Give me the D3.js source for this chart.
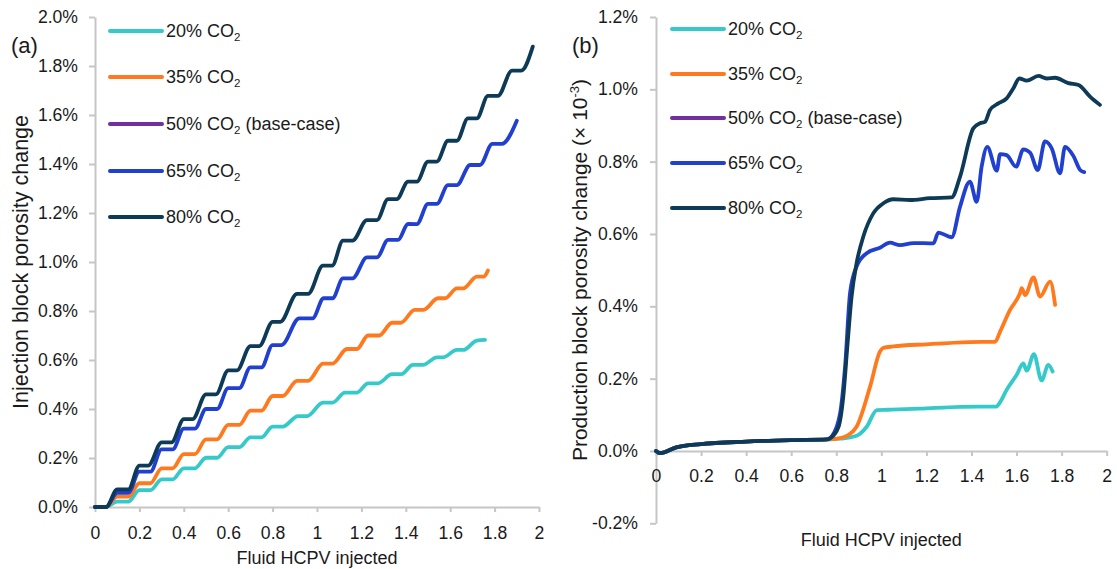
<!DOCTYPE html>
<html>
<head>
<meta charset="utf-8">
<script src="https://cdn.jsdelivr.net/npm/d3@7"></script>
<style>
  html, body { margin: 0; padding: 0; background: #ffffff; }
  svg { display: block; font-family: "Liberation Sans", Arial, Helvetica, sans-serif; }
  .axis path, .axis line { stroke: #c6c6c6; stroke-width: 2; }
  .axis text { fill: #1a1a1a; font-size: 17.6px; font-family: "Liberation Sans", Arial, sans-serif; }
</style>
</head>
<body>
<svg id="chart" width="1117" height="569"></svg>
<script>
// CO2 concentration cases
const seriesNames = ["20% CO", "35% CO", "50% CO", "65% CO", "80% CO"];
const seriesSuffix = ["", "", " (base-case)", "", ""];
const seriesColors = ["#35c9c9", "#ff7a1e", "#7030a0", "#2140cf", "#0d3a57"];

// x ticks (fluid HCPV injected)
const xTicks = [0, 0.2, 0.4, 0.6, 0.8, 1, 1.2, 1.4, 1.6, 1.8, 2];
const xTickLabels = ["0", "0.2", "0.4", "0.6", "0.8", "1", "1.2", "1.4", "1.6", "1.8", "2"];
// y ticks, porosity change in %
const yTicksA = [0, 0.2, 0.4, 0.6, 0.8, 1.0, 1.2, 1.4, 1.6, 1.8, 2.0];
const yTicksB = [-0.2, 0, 0.2, 0.4, 0.6, 0.8, 1.0, 1.2];

// (a) injection block porosity change [HCPV, %]
const injection20 = [[0,0],[0.05,0],[0.1,0.022],[0.15,0.022],[0.2,0.069],[0.25,0.069],[0.3,0.113],[0.35,0.113],[0.4,0.158],[0.45,0.158],[0.5,0.201],[0.55,0.201],[0.6,0.244],[0.65,0.244],[0.7,0.284],[0.75,0.284],[0.8,0.328],[0.845,0.328],[0.915,0.371],[0.955,0.371],[1.027,0.426],[1.07,0.426],[1.126,0.467],[1.18,0.467],[1.23,0.505],[1.275,0.505],[1.338,0.542],[1.38,0.542],[1.432,0.58],[1.477,0.58],[1.54,0.611],[1.568,0.611],[1.63,0.641],[1.658,0.641],[1.72,0.679],[1.757,0.682]];
const injection35 = [[0,0],[0.05,0],[0.1,0.042],[0.15,0.042],[0.2,0.097],[0.25,0.097],[0.3,0.158],[0.35,0.158],[0.4,0.216],[0.45,0.216],[0.5,0.276],[0.55,0.276],[0.6,0.335],[0.65,0.335],[0.7,0.393],[0.75,0.393],[0.8,0.453],[0.845,0.453],[0.91,0.515],[0.96,0.515],[1.027,0.585],[1.07,0.585],[1.135,0.645],[1.18,0.645],[1.23,0.70],[1.28,0.70],[1.338,0.752],[1.378,0.752],[1.44,0.805],[1.48,0.805],[1.545,0.852],[1.577,0.852],[1.63,0.892],[1.658,0.892],[1.72,0.94],[1.75,0.94],[1.77,0.965]];
const injection50 = [];
const injection65 = [[0,0],[0.05,0],[0.1,0.058],[0.15,0.058],[0.2,0.144],[0.25,0.144],[0.3,0.235],[0.35,0.235],[0.4,0.32],[0.45,0.32],[0.5,0.40],[0.55,0.40],[0.6,0.485],[0.65,0.485],[0.7,0.57],[0.75,0.57],[0.8,0.661],[0.84,0.661],[0.92,0.77],[0.98,0.77],[1.03,0.852],[1.07,0.852],[1.117,0.933],[1.16,0.933],[1.225,1.019],[1.27,1.019],[1.32,1.09],[1.365,1.09],[1.41,1.155],[1.45,1.155],[1.5,1.237],[1.54,1.237],[1.59,1.314],[1.63,1.314],[1.69,1.396],[1.734,1.396],[1.79,1.482],[1.833,1.482],[1.9,1.577]];
const injection80 = [[0,0],[0.05,0],[0.1,0.072],[0.15,0.072],[0.2,0.169],[0.24,0.169],[0.3,0.264],[0.345,0.264],[0.4,0.359],[0.44,0.359],[0.5,0.46],[0.545,0.46],[0.6,0.558],[0.64,0.558],[0.7,0.657],[0.74,0.657],[0.8,0.756],[0.835,0.756],[0.91,0.87],[0.96,0.87],[1.027,0.985],[1.068,0.985],[1.117,1.087],[1.16,1.087],[1.225,1.171],[1.27,1.171],[1.32,1.257],[1.36,1.257],[1.41,1.328],[1.45,1.328],[1.5,1.41],[1.54,1.41],[1.59,1.495],[1.63,1.495],[1.68,1.586],[1.72,1.586],[1.77,1.678],[1.815,1.678],[1.878,1.781],[1.92,1.781],[1.972,1.879]];

// (b) production block porosity change [HCPV, % x 10^-3]
const production20 = [[0,0],[0.018,-0.006],[0.09,0.01],[0.2,0.019],[0.4,0.026],[0.6,0.03],[0.76,0.032],[0.82,0.034],[0.89,0.042],[0.935,0.067],[0.98,0.113],[1.03,0.114],[1.17,0.117],[1.35,0.122],[1.51,0.123],[1.527,0.135],[1.556,0.169],[1.6,0.21],[1.63,0.242],[1.645,0.222],[1.677,0.268],[1.711,0.195],[1.741,0.238],[1.76,0.22]];
const production35 = [[0,0],[0.018,-0.006],[0.09,0.01],[0.2,0.019],[0.4,0.026],[0.6,0.03],[0.76,0.032],[0.8,0.034],[0.853,0.044],[0.89,0.067],[0.95,0.178],[0.994,0.275],[1.009,0.285],[1.053,0.289],[1.2,0.295],[1.39,0.301],[1.505,0.302],[1.527,0.33],[1.571,0.39],[1.615,0.436],[1.623,0.45],[1.638,0.431],[1.675,0.48],[1.704,0.427],[1.749,0.468],[1.771,0.404]];
const production50 = [];
const production65 = [[0,0],[0.018,-0.006],[0.09,0.01],[0.2,0.019],[0.4,0.026],[0.6,0.03],[0.76,0.032],[0.78,0.04],[0.817,0.104],[0.839,0.233],[0.861,0.436],[0.89,0.51],[0.935,0.547],[0.994,0.562],[1.038,0.576],[1.083,0.569],[1.142,0.575],[1.231,0.574],[1.253,0.604],[1.312,0.591],[1.349,0.675],[1.393,0.745],[1.423,0.689],[1.445,0.786],[1.47,0.841],[1.512,0.775],[1.527,0.821],[1.556,0.818],[1.598,0.786],[1.63,0.834],[1.66,0.825],[1.694,0.777],[1.726,0.856],[1.756,0.837],[1.793,0.768],[1.815,0.841],[1.852,0.816],[1.882,0.777],[1.9,0.771]];
const production80 = [[0,0],[0.018,-0.006],[0.09,0.01],[0.2,0.019],[0.4,0.026],[0.6,0.03],[0.76,0.032],[0.772,0.035],[0.81,0.067],[0.831,0.15],[0.849,0.288],[0.868,0.427],[0.89,0.519],[0.92,0.593],[0.964,0.657],[1.009,0.685],[1.053,0.696],[1.127,0.694],[1.216,0.699],[1.312,0.701],[1.349,0.758],[1.408,0.892],[1.438,0.906],[1.46,0.91],[1.482,0.943],[1.519,0.961],[1.556,0.975],[1.586,1.003],[1.612,1.03],[1.645,1.024],[1.697,1.037],[1.734,1.03],[1.771,1.032],[1.83,1.017],[1.875,1.012],[1.926,0.98],[1.97,0.957]];

const injectionSeries = [injection20, injection35, injection50, injection65, injection80];
const productionSeries = [production20, production35, production50, production65, production80];

const svg = d3.select("#chart");
const pctLabel = v => v.toFixed(1) + "%";

function drawPanel(cfg) {
  const x = d3.scaleLinear().domain([0, 2]).range([cfg.x0, cfg.x1]);
  const y = d3.scaleLinear().domain(cfg.yDomain).range([cfg.yBottom, cfg.yTop]);
  const g = svg.append("g");

  // y axis
  g.append("g").attr("class", "axis")
    .attr("transform", `translate(${cfg.x0},0)`)
    .call(d3.axisLeft(y).tickValues(cfg.yTicks).tickFormat(pctLabel)
      .tickSize(6).tickSizeOuter(0).tickPadding(cfg.yPad));

  // x axis sits on the zero line
  g.append("g").attr("class", "axis")
    .attr("transform", `translate(0,${y(0)})`)
    .call(d3.axisBottom(x).tickValues(xTicks).tickFormat((d, i) => xTickLabels[i])
      .tickSize(5).tickSizeOuter(0).tickPadding(cfg.xPad));

  // series lines
  const line = d3.line()
    .x(d => x(d[0])).y(d => y(d[1]))
    .curve(d3.curveMonotoneX);
  cfg.series.forEach((data, i) => {
    if (!data.length) return;
    g.append("path")
      .attr("d", line(data))
      .attr("fill", "none")
      .attr("stroke", seriesColors[i])
      .attr("stroke-width", 3.8)
      .attr("stroke-linejoin", "round")
      .attr("stroke-linecap", "round");
  });

  // legend
  cfg.legendRows.forEach((ly, i) => {
    g.append("line")
      .attr("x1", cfg.legendX).attr("x2", cfg.legendX + 52)
      .attr("y1", ly).attr("y2", ly)
      .attr("stroke", seriesColors[i]).attr("stroke-width", 4)
      .attr("stroke-linecap", "round");
    const t = g.append("text")
      .attr("x", cfg.legendX + 56).attr("y", ly).attr("dy", "0.36em")
      .attr("font-size", 18).attr("fill", "#1a1a1a");
    t.append("tspan").text(seriesNames[i]);
    t.append("tspan").attr("font-size", 11.5).attr("dy", 4).text("2");
    if (seriesSuffix[i]) t.append("tspan").attr("dy", -4).text(seriesSuffix[i]);
  });

  // panel letter
  g.append("text").attr("x", cfg.letterX).attr("y", 53)
    .attr("font-size", 22).attr("fill", "#1a1a1a").text(cfg.letter);

  // x title
  g.append("text").attr("x", (cfg.x0 + cfg.x1) / 2).attr("y", cfg.xTitleY)
    .attr("text-anchor", "middle").attr("font-size", 18).attr("fill", "#1a1a1a")
    .text("Fluid HCPV injected");

  return { x, y, g };
}

const pa = drawPanel({
  x0: 95, x1: 539, yTop: 17, yBottom: 507, yDomain: [0, 2],
  yTicks: yTicksA, yPad: 11, xPad: 15,
  series: injectionSeries,
  legendX: 110, legendRows: [31, 77, 124, 171, 217],
  letter: "(a)", letterX: 11, xTitleY: 564
});
pa.g.append("text")
  .attr("transform", "translate(28,262) rotate(-90)")
  .attr("text-anchor", "middle").attr("font-size", 21.5).attr("fill", "#1a1a1a")
  .text("Injection block porosity change");

const pb = drawPanel({
  x0: 656, x1: 1106.7, yTop: 17, yBottom: 523.3, yDomain: [-0.2, 1.2],
  yTicks: yTicksB, yPad: 12, xPad: 14,
  series: productionSeries,
  legendX: 672, legendRows: [29, 74, 118, 163, 208],
  letter: "(b)", letterX: 572, xTitleY: 546
});
const yt = pb.g.append("text")
  .attr("transform", "translate(587,270) rotate(-90)")
  .attr("text-anchor", "middle").attr("font-size", 21).attr("fill", "#1a1a1a");
yt.append("tspan").text("Production block porosity change (× 10");
yt.append("tspan").attr("font-size", 13).attr("dy", -8).text("-3");
yt.append("tspan").attr("dy", 8).text(")");
</script>
</body>
</html>
